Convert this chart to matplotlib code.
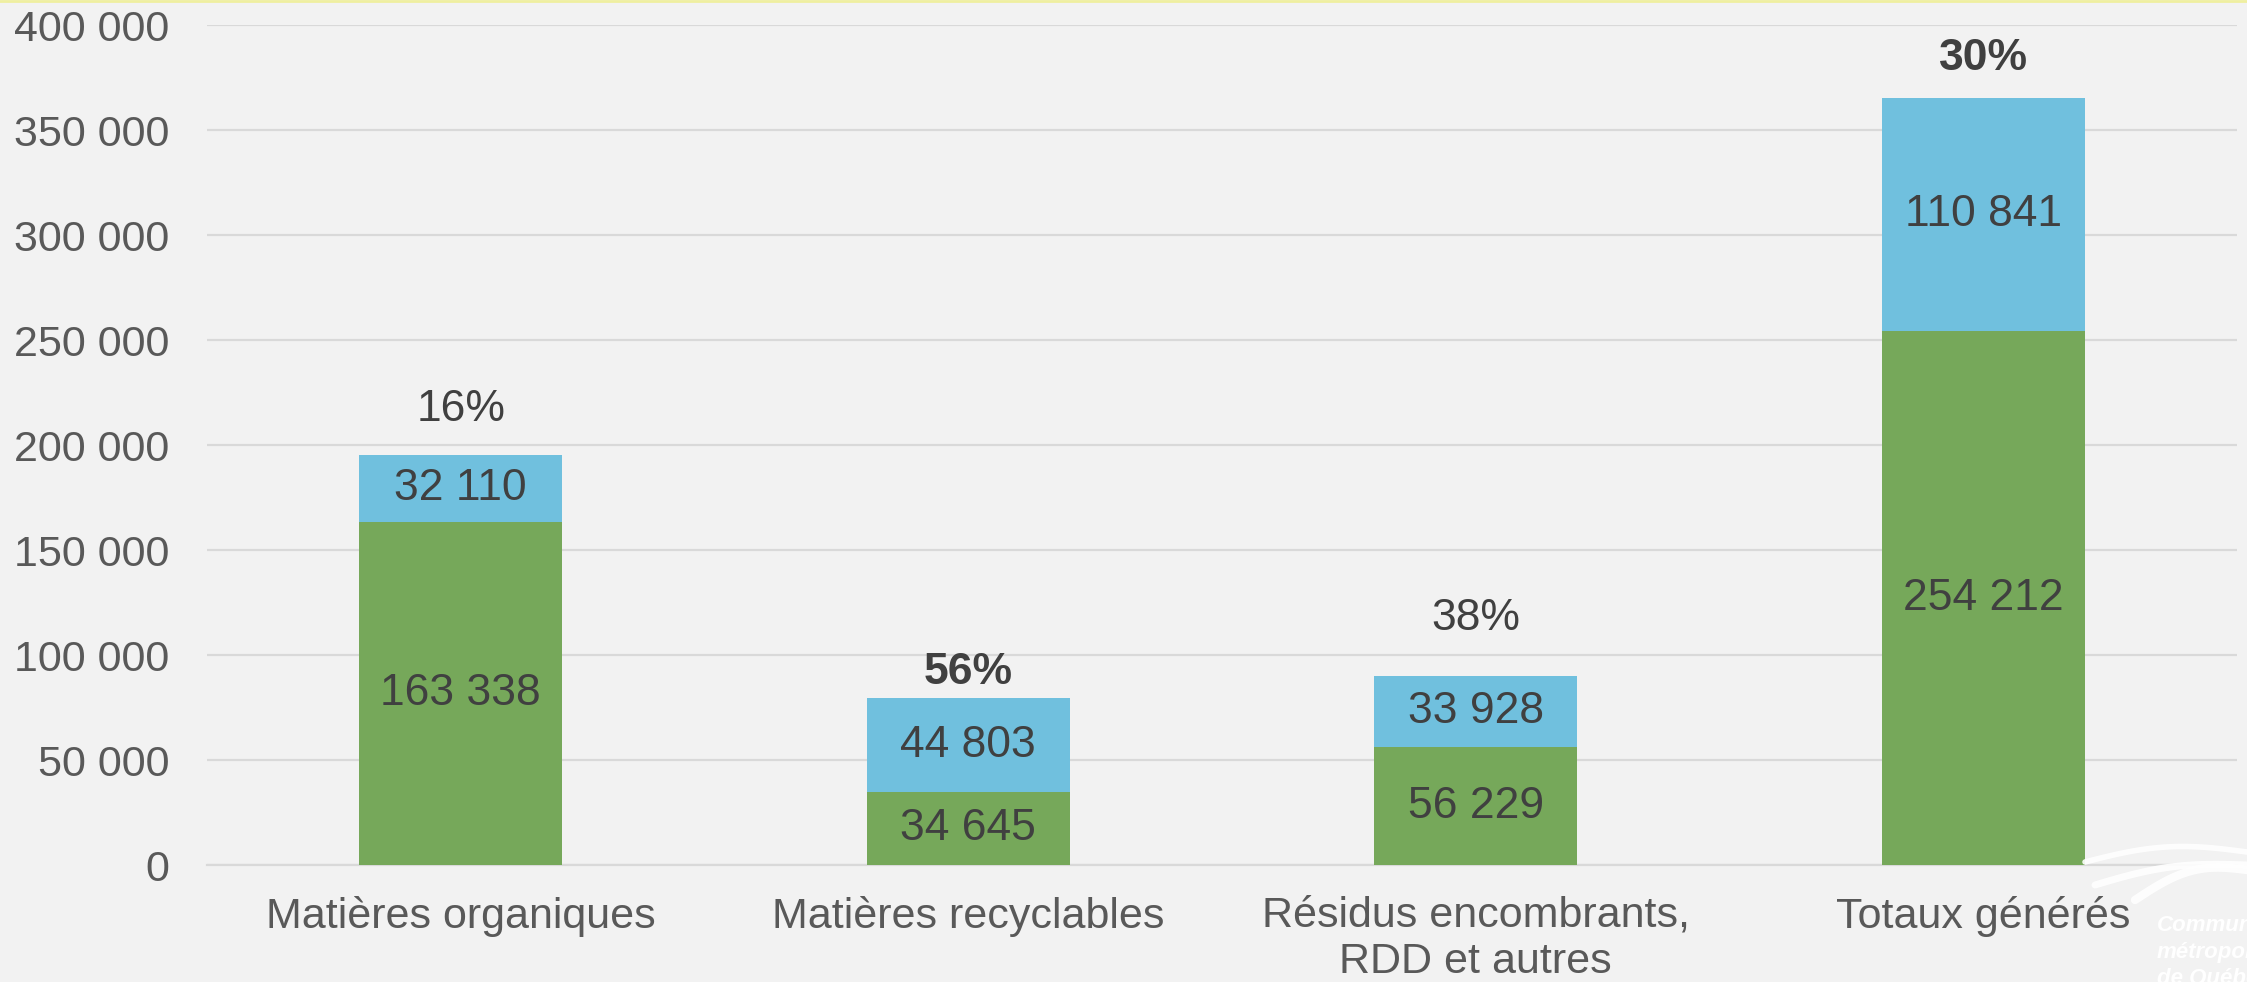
import numpy as np
import matplotlib
matplotlib.use('Agg')
import matplotlib.pyplot as plt
from matplotlib.ticker import FuncFormatter

matplotlib.rcParams['font.family'] = ['Liberation Sans', 'DejaVu Sans']

# données (tonnes)
categories = ['Matières organiques', 'Matières recyclables',
              'Résidus encombrants,\nRDD et autres', 'Totaux générés']
vert = [163338, 34645, 56229, 254212]
bleu = [32110, 44803, 33928, 110841]
pct_bold = [False, True, False, True]
# hauteur des étiquettes de pourcentage (placées à la main dans l'original)
pct_y = [217000, 91500, 117500, 384000]

c_vert = '#76A85A'
c_bleu = '#70C0DE'
fond = '#F2F2F2'
txt = '#404040'


def fmt(v):
    return '{:,}'.format(int(v)).replace(',', ' ')


fig = plt.figure(figsize=(22.47, 9.82), dpi=100, facecolor=fond)
ax = fig.add_axes([0.0921, 0.1191, 0.9034, 0.8554], facecolor=fond)

x = np.arange(len(categories))
largeur = 0.40
ax.bar(x, vert, largeur, color=c_vert, zorder=3)
ax.bar(x, bleu, largeur, bottom=vert, color=c_bleu, zorder=3)

for i in range(len(x)):
    ax.text(x[i], vert[i] / 2, fmt(vert[i]), ha='center', va='center',
            fontsize=32, color=txt, zorder=4)
    ax.text(x[i], vert[i] + bleu[i] / 2, fmt(bleu[i]), ha='center', va='center',
            fontsize=32, color=txt, zorder=4)
    p = round(100 * bleu[i] / (vert[i] + bleu[i]))
    ax.text(x[i], pct_y[i], '%d%%' % p, ha='center', va='center', fontsize=32,
            color=txt, fontweight='bold' if pct_bold[i] else 'normal', zorder=4)

ax.set_xlim(-0.5, len(categories) - 0.5)
ax.set_ylim(0, 400000)
ax.set_yticks(np.arange(0, 400001, 50000))
ax.yaxis.set_major_formatter(FuncFormatter(lambda v, p: fmt(v)))
ax.set_xticks(x)
ax.set_xticklabels(categories, linespacing=1.2)
ax.tick_params(axis='y', length=0, pad=27, labelsize=31, labelcolor='#595959')
ax.tick_params(axis='x', length=0, pad=22, labelsize=31, labelcolor='#595959')
ax.grid(axis='y', color='#D9D9D9', linewidth=1.6, zorder=0)
for s in ['top', 'right', 'left']:
    ax.spines[s].set_visible(False)
ax.spines['bottom'].set_color('#D9D9D9')
ax.spines['bottom'].set_linewidth(1.6)

# filet jaune en haut
fig.add_artist(plt.Line2D([0, 1], [0.999, 0.999], color='#EFEFA0', linewidth=2,
                          transform=fig.transFigure))

# logo pâle en bas à droite
t = np.linspace(0, 1, 50)
for (x0, x1, y0, y1, bend, lw) in [(2085, 2247, 862, 852, -10, 4),
                                    (2095, 2247, 885, 865, -8, 5),
                                    (2135, 2247, 900, 870, -14, 6)]:
    xs = x0 + (x1 - x0) * t
    ys = y0 + (y1 - y0) * t + bend * np.sin(np.pi * t)
    fig.add_artist(plt.Line2D(xs / 2247, 1 - ys / 982, color='white',
                              linewidth=lw, alpha=0.9, solid_capstyle='round',
                              transform=fig.transFigure))
fig.text(2157 / 2247, 1 - 915 / 982, 'Communauté\nmétropolitaine\nde Québec',
         ha='left', va='top', fontsize=16, color='white', fontweight='bold',
         fontstyle='italic', linespacing=1.35)

fig.savefig('out.png', dpi=100, facecolor=fond)
